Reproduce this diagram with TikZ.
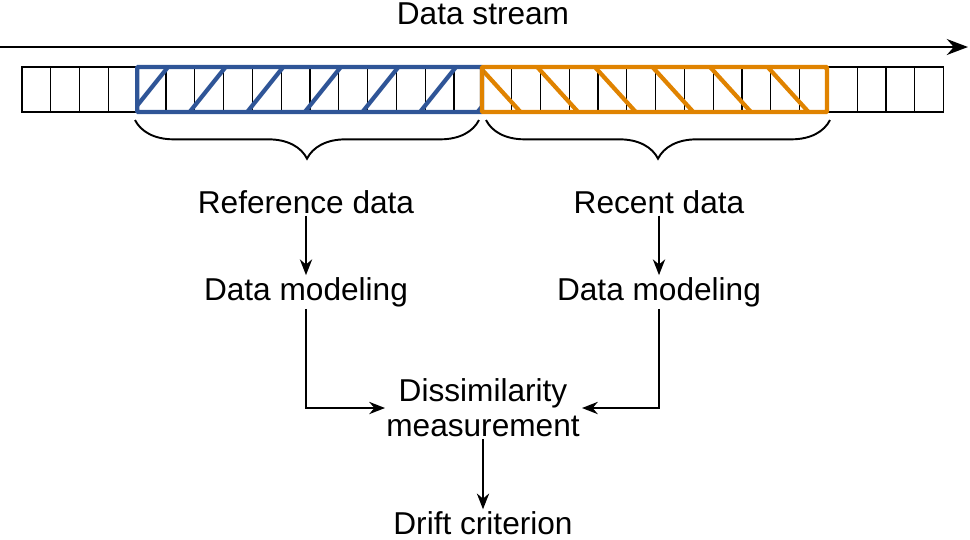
\documentclass[tikz,border=0pt]{standalone}
\usepackage{fontspec}
\setmainfont{Liberation Sans}
\usetikzlibrary{positioning,decorations.pathreplacing,arrows.meta}
\definecolor{refblue}{RGB}{47,85,151}
\definecolor{recorange}{RGB}{224,131,0}
\tikzset{lbl/.style={font=\fontsize{18}{21}\selectfont, align=center, inner sep=1pt},
  cell/.style={draw, line width=0.6pt},
  win/.style={line width=2.4pt, rounded corners=0.5pt},
  brc/.style={decorate, decoration={brace, mirror, amplitude=22pt, aspect=0.5}, line width=1.1pt},
  flow/.style={-{Stealth[length=9pt,width=7pt]}, line width=1pt}}
\begin{document}
\begin{tikzpicture}[x=0.02cm, y=-0.02cm]
\useasboundingbox (0,0) rectangle (970,539);
% data stream
\node[lbl] (title) at (483,14) {Data stream};
\coordinate (s0) at (0,47);
\coordinate (s1) at (968,47);
\draw[-{Stealth[length=12pt,width=9pt]}, line width=1.6pt] (s0) -- (s1);
% cells
\foreach \i in {0,...,31}
  \draw[cell] ({22+\i*28.8},67) rectangle ({22+(\i+1)*28.8},112);
% hatching
\begin{scope}
  \clip (137.2,67) rectangle (482,112);
  \foreach \k in {0,...,6}
    \draw[refblue, line width=2.4pt] ({137.2+\k*57.6-10},118) -- ({137.2+\k*57.6+34},63);
\end{scope}
\begin{scope}
  \clip (482,67) rectangle (827,112);
  \foreach \k in {0,...,6}
    \draw[recorange, line width=2.4pt] ({482+\k*57.6-6},63) -- ({482+\k*57.6+44},118);
\end{scope}
\draw[win, refblue] (137.2,67) rectangle (482,112);
\draw[win, recorange] (482,67) rectangle (827,112);
% braces
\draw[brc] (135,120) -- (479,120);
\draw[brc] (486,120) -- (830,120);
% labels
\node[lbl] (ref) at (306,202) {Reference data};
\node[lbl] (rec) at (659,202) {Recent data};
\node[lbl] (modL) at (306,292) {Data modeling};
\node[lbl] (modR) at (659,292) {Data modeling};
\node[lbl, text width=6cm] (diss) at (483,408) {Dissimilarity\\[-1pt]measurement};
\node[lbl] (drift) at (483,523) {Drift criterion};
\coordinate (inL) at (385,408);
\coordinate (inR) at (582,408);
\draw[flow] (ref) -- (modL);
\draw[flow] (rec) -- (modR);
\draw[flow] (modL) |- (inL);
\draw[flow] (modR) |- (inR);
\draw[flow] (diss) -- (drift);
\end{tikzpicture}
\end{document}
